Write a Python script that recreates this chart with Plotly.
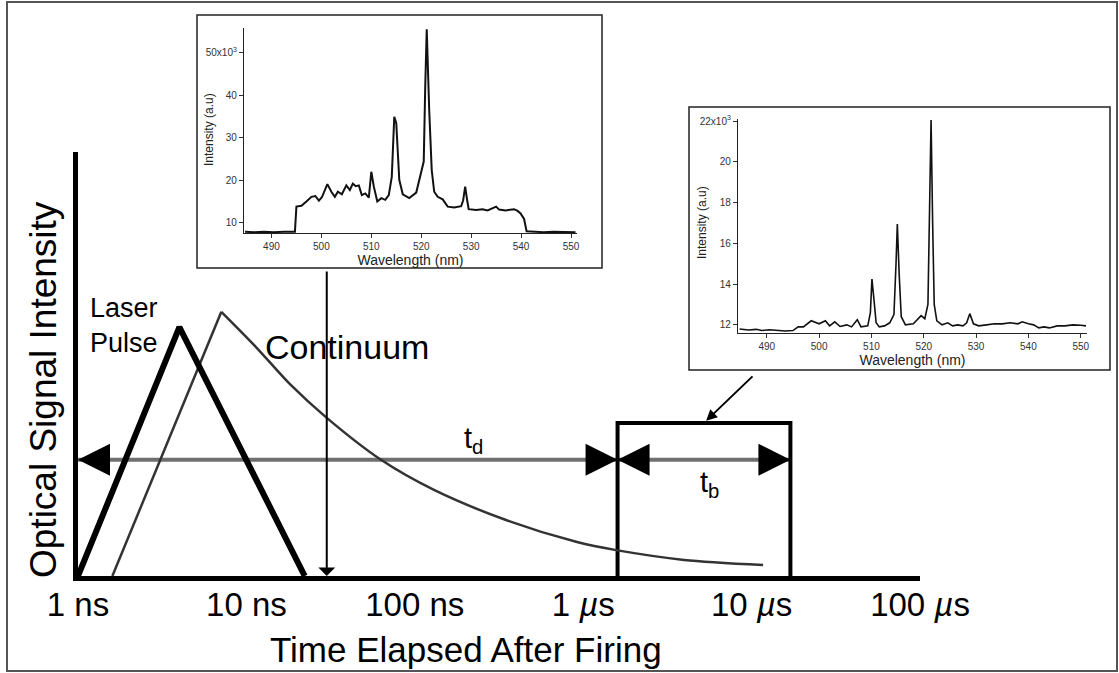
import math
import plotly.graph_objects as go

W, H = 1119, 673
FONT = "Liberation Sans, Arial, Helvetica, sans-serif"

# ---- timing diagram (time in ns, signal normalised to 0..1) ----
decade_ns = [1, 10, 100, 1000, 10000, 100000]
decade_labels = ["1 ns", "10 ns", "100 ns", "1 <i>µ</i>s", "10 <i>µ</i>s", "100 <i>µ</i>s"]
inner_tick_ns = [10, 100, 1000, 10000]

laser_t = [1.0, 4.0, 22.2]
laser_i = [0.0, 0.587, 0.0]

continuum_rise_t = [1.6, 7.1]
continuum_rise_i = [0.0, 0.623]
continuum_decay_t = [7.1, 11.4, 18.4, 30, 63, 130, 348, 919, 1570, 3970, 11700]
continuum_decay_i = [0.623, 0.540, 0.450, 0.373, 0.274, 0.203, 0.132, 0.080, 0.061, 0.038, 0.026]

delay_start_ns = 1.0
gate_open_ns = 1600
gate_close_ns = 17000
delay_bar_level = 0.274
gate_height = 0.361
early_spectrum_ns = 30

# ---- spectrum recorded early (intensity x10^3) ----
wl_early = [484.7, 486.5, 488.5, 490.5, 492.5, 494.7, 495.0, 496.0, 497.0, 498.0, 498.8,
            499.5, 500.1, 501.2, 502.0, 502.7, 503.3, 504.1, 505.0, 505.7, 506.3, 506.9,
            507.5, 508.1, 508.8, 509.5, 510.0, 510.5, 511.2, 512.0, 512.8, 513.5, 514.1,
            514.6, 515.0, 515.6, 516.3, 517.6, 519.0, 520.0, 520.5, 520.8, 521.1, 521.6,
            522.1, 522.6, 523.3, 524.3, 525.3, 526.6, 528.0, 528.4, 528.8, 529.2, 529.5,
            531.0, 532.3, 533.3, 535.0, 535.6, 536.9, 538.6, 539.3, 539.9, 540.6, 541.1,
            542.3, 544.5, 546.5, 548.5, 550.9]
int_early = [7.9, 7.8, 7.9, 7.8, 7.9, 7.9, 13.8, 14.0, 15.0, 16.1, 16.3,
             15.2, 16.0, 19.1, 17.3, 16.1, 17.3, 16.7, 18.8, 17.7, 19.2, 18.6,
             18.8, 16.5, 16.9, 15.9, 22.0, 18.5, 15.0, 15.8, 15.4, 16.5, 20.8,
             34.9, 33.4, 20.1, 16.7, 15.8, 17.1, 22.0, 24.4, 42.0, 55.5, 36.4,
             22.4, 17.3, 16.1, 15.5, 13.8, 13.6, 13.9, 15.3, 18.5, 15.3, 13.2,
             13.0, 13.2, 12.9, 13.8, 13.1, 12.9, 13.2, 12.8, 12.2, 10.9, 8.0,
             7.9, 7.8, 7.9, 7.8, 7.8]

# ---- spectrum recorded in the gate (intensity x10^3) ----
wl_gate = [484.8, 486.5, 488.0, 489.0, 490.5, 492.0, 493.5, 495.0, 496.0, 497.0, 498.5,
           500.0, 501.2, 502.0, 503.0, 504.0, 505.3, 506.2, 507.3, 508.0, 509.3, 509.8,
           510.1, 510.5, 510.9, 511.5, 512.5, 513.5, 514.3, 514.7, 514.95, 515.3, 515.7,
           516.5, 518.0, 519.5, 520.2, 520.8, 521.1, 521.4, 521.7, 522.0, 522.5, 523.5,
           524.6, 525.5, 526.5, 527.5, 528.2, 528.8, 529.5, 530.5, 532.0, 533.5, 535.0,
           536.5, 538.0, 538.8, 540.0, 541.0, 542.0, 543.0, 544.0, 545.5, 547.0, 548.5,
           550.0, 551.0]
int_gate = [11.80, 11.75, 11.78, 11.72, 11.76, 11.72, 11.70, 11.72, 11.90, 11.90, 12.20,
            12.05, 12.20, 11.95, 12.15, 11.92, 12.00, 11.90, 12.25, 11.90, 11.95, 12.60,
            14.25, 13.20, 12.10, 11.90, 11.95, 12.10, 12.50, 15.00, 16.95, 14.50, 12.40,
            12.00, 12.05, 12.45, 12.30, 13.00, 18.50, 22.05, 17.00, 13.00, 12.20, 12.00,
            12.10, 11.95, 12.00, 11.95, 12.10, 12.55, 12.05, 11.95, 12.00, 12.05, 12.05,
            12.10, 12.05, 12.15, 12.05, 12.00, 11.85, 11.90, 11.85, 11.95, 11.95, 12.00,
            11.98, 11.95]


def px(x):
    return x / W


def py(y):
    return 1 - y / H


fig = go.Figure()

# delay and gate-width bars
fig.add_trace(go.Scatter(x=[delay_start_ns, gate_open_ns], y=[delay_bar_level] * 2,
                         mode="lines", line=dict(color="#6f6f6f", width=4),
                         cliponaxis=False, xaxis="x", yaxis="y"))
fig.add_trace(go.Scatter(x=[gate_open_ns, gate_close_ns], y=[delay_bar_level] * 2,
                         mode="lines", line=dict(color="#6f6f6f", width=4),
                         cliponaxis=False, xaxis="x", yaxis="y"))

# detector gate
fig.add_trace(go.Scatter(x=[gate_open_ns, gate_open_ns, gate_close_ns, gate_close_ns],
                         y=[0, gate_height, gate_height, 0],
                         mode="lines", line=dict(color="black", width=4),
                         cliponaxis=False, xaxis="x", yaxis="y"))

# continuum emission
fig.add_trace(go.Scatter(x=continuum_rise_t, y=continuum_rise_i, mode="lines",
                         line=dict(color="#333333", width=2.5), cliponaxis=False,
                         xaxis="x", yaxis="y"))
fig.add_trace(go.Scatter(x=continuum_decay_t, y=continuum_decay_i, mode="lines",
                         line=dict(color="#333333", width=2.5, shape="spline", smoothing=0.8),
                         cliponaxis=False, xaxis="x", yaxis="y"))

# laser pulse
fig.add_trace(go.Scatter(x=laser_t, y=laser_i, mode="lines",
                         line=dict(color="black", width=6), cliponaxis=False,
                         xaxis="x", yaxis="y"))

# arrowheads on the bars
fig.add_trace(go.Scatter(x=[delay_start_ns, gate_open_ns, gate_open_ns, gate_close_ns],
                         y=[delay_bar_level] * 4, mode="markers",
                         marker=dict(symbol=["arrow-left", "arrow-right", "arrow-left", "arrow-right"],
                                     size=32, color="black", line=dict(width=0)),
                         cliponaxis=False, xaxis="x", yaxis="y"))

# inset spectra
fig.add_trace(go.Scatter(x=wl_early, y=int_early, mode="lines",
                         line=dict(color="#111111", width=2), xaxis="x3", yaxis="y3"))
fig.add_trace(go.Scatter(x=wl_gate, y=int_gate, mode="lines",
                         line=dict(color="#111111", width=1.6), xaxis="x4", yaxis="y4"))

inset_tick_font = dict(family=FONT, size=10, color="#333333")
inset_axis = dict(automargin=False, showline=True, linewidth=1.2, linecolor="#222222",
                  showgrid=False, zeroline=False, ticks="outside", ticklen=4,
                  tickcolor="#333333", tickfont=inset_tick_font)
wl_ticks = [490, 500, 510, 520, 530, 540, 550]

fig.update_layout(
    width=W, height=H, autosize=False,
    margin=dict(l=0, r=0, t=0, b=0, pad=0, autoexpand=False),
    paper_bgcolor="white", plot_bgcolor="rgba(0,0,0,0)",
    showlegend=False,
    font=dict(family=FONT, color="black"),
    xaxis=dict(type="log", range=[0, 5], domain=[px(78), px(920)], anchor="y",
               automargin=False,
               showline=True, linewidth=5, linecolor="black", showgrid=False,
               zeroline=False, ticks="", tickvals=decade_ns, ticktext=decade_labels,
               tickfont=dict(family=FONT, size=33, color="black"), ticklabelstandoff=-5),
    xaxis2=dict(type="log", range=[0, 5], domain=[px(78), px(920)], anchor="y",
                automargin=False,
                overlaying="x", showline=False, showgrid=False, zeroline=False,
                ticks="inside", ticklen=20, tickwidth=2, tickcolor="black",
                tickvals=inner_tick_ns, showticklabels=False),
    yaxis=dict(range=[0, 1], domain=[py(576), py(152)], anchor="x",
               automargin=False,
               showline=True, linewidth=5, linecolor="black", showgrid=False,
               zeroline=False, ticks="", showticklabels=False),
    xaxis3=dict(range=[484.5, 551.2], domain=[px(244), px(577)], anchor="y3",
                tickvals=wl_ticks,
                title=dict(text="Wavelength (nm)", font=dict(family=FONT, size=14, color="#222222"),
                           standoff=2), **inset_axis),
    yaxis3=dict(range=[7.6, 55.8], domain=[py(233), py(28)], anchor="x3",
                tickvals=[10, 20, 30, 40, 50],
                ticktext=["10", "20", "30", "40", "50x10<sup>3</sup>"], **inset_axis),
    xaxis4=dict(range=[484.5, 551.2], domain=[px(738), px(1087)], anchor="y4",
                tickvals=wl_ticks,
                title=dict(text="Wavelength (nm)", font=dict(family=FONT, size=14, color="#222222"),
                           standoff=2), **inset_axis),
    yaxis4=dict(range=[11.6, 22.1], domain=[py(333), py(119)], anchor="x4",
                tickvals=[12, 14, 16, 18, 20, 22],
                ticktext=["12", "14", "16", "18", "20", "22x10<sup>3</sup>"], **inset_axis),
)

# frames: outer border and inset boxes
fig.add_shape(type="rect", xref="paper", yref="paper", x0=px(7), x1=px(1117), y0=py(671), y1=py(2),
              line=dict(color="#555555", width=2), layer="below")
fig.add_shape(type="rect", xref="paper", yref="paper", x0=px(197), x1=px(602), y0=py(268), y1=py(15),
              line=dict(color="#222222", width=1.5), layer="below")
fig.add_shape(type="rect", xref="paper", yref="paper", x0=px(689), x1=px(1110), y0=py(370), y1=py(107),
              line=dict(color="#222222", width=1.5), layer="below")

ann = []
# pointer from the early spectrum to its acquisition time
ann.append(dict(x=math.log10(early_spectrum_ns), y=0, xref="x", yref="y", text="",
                showarrow=True, arrowhead=1, arrowsize=1.4, arrowwidth=2, arrowcolor="black",
                ax=0, ay=-306))
# pointer from the gated spectrum to the gate
ann.append(dict(x=math.log10(math.sqrt(gate_open_ns * gate_close_ns)), y=gate_height,
                xref="x", yref="y", text="", showarrow=True, arrowhead=2, arrowsize=1.1,
                arrowwidth=2, arrowcolor="black", ax=50, ay=-48, standoff=3))

# inset intensity titles
ann.append(dict(x=px(209), y=py(130), xref="paper", yref="paper", text="Intensity (a.u)",
                showarrow=False, textangle=-90, xanchor="center", yanchor="middle",
                font=dict(family=FONT, size=12, color="#222222")))
ann.append(dict(x=px(702), y=py(223), xref="paper", yref="paper", text="Intensity (a.u)",
                showarrow=False, textangle=-90, xanchor="center", yanchor="middle",
                font=dict(family=FONT, size=12, color="#222222")))

ann.append(dict(x=px(88), y=py(325), xref="paper", yref="paper", text="Laser<br>Pulse",
                showarrow=False, xanchor="left", yanchor="middle", align="left",
                font=dict(family=FONT, size=27, color="black")))
ann.append(dict(x=px(263), y=py(347), xref="paper", yref="paper", text="Continuum",
                showarrow=False, xanchor="left", yanchor="middle",
                font=dict(family=FONT, size=34, color="black")))
ann.append(dict(x=px(473), y=py(440), xref="paper", yref="paper", text="t<sub>d</sub>",
                showarrow=False, xanchor="center", yanchor="middle",
                font=dict(family=FONT, size=29, color="black")))
ann.append(dict(x=px(709), y=py(484), xref="paper", yref="paper", text="t<sub>b</sub>",
                showarrow=False, xanchor="center", yanchor="middle",
                font=dict(family=FONT, size=29, color="black")))
ann.append(dict(x=px(43), y=py(390), xref="paper", yref="paper", text="Optical Signal Intensity",
                showarrow=False, xanchor="center", yanchor="middle", textangle=-90,
                font=dict(family=FONT, size=37, color="black")))
ann.append(dict(x=px(466), y=py(649), xref="paper", yref="paper", text="Time Elapsed After Firing",
                showarrow=False, xanchor="center", yanchor="middle",
                font=dict(family=FONT, size=35, color="black")))
fig.update_layout(annotations=ann)

fig.write_html("out.html")
